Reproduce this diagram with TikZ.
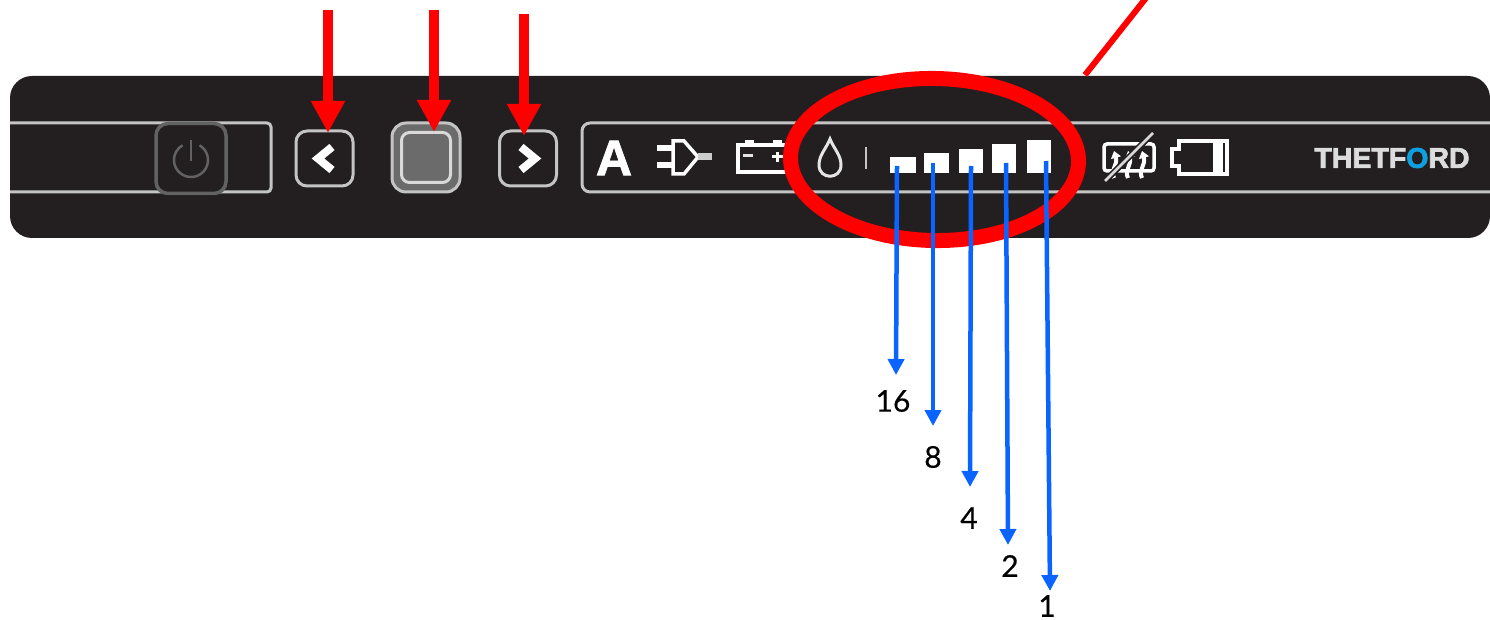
\documentclass[tikz,border=0pt]{standalone}
\usepackage{fontspec}
\setmainfont{Lato}[FakeBold=0.4]
\newfontfamily\logofont{Liberation Sans}[BoldFeatures={FakeBold=2.5}]
\newfontfamily\iconfont{Liberation Sans}[BoldFeatures={FakeBold=1.5}]
\usetikzlibrary{arrows.meta, shapes.geometric}
\definecolor{panelblack}{HTML}{231F20}
\definecolor{rimgray}{HTML}{C4C4C4}
\definecolor{padgray}{HTML}{6B6B6B}
\definecolor{powergray}{HTML}{626262}
\definecolor{markred}{HTML}{FF0000}
\definecolor{pointerblue}{HTML}{0A64FF}
\definecolor{logoblue}{HTML}{0FA0E0}
\definecolor{logogray}{HTML}{DCDCDC}
\tikzset{
    keypad/.style={draw=rimgray, line width=3pt, rounded corners=11pt, fill=panelblack, inner sep=0pt, minimum width=57pt, minimum height=55pt},
    levelbar/.style={fill=white, inner sep=0pt, anchor=south west},
    redpointer/.style={draw=markred, line width=10pt, -{Triangle[width=32pt,length=32pt]}},
    bluepointer/.style={draw=pointerblue, line width=4.5pt, -{Triangle[width=16pt,length=16pt]}},
    levellabel/.style={font=\fontsize{30}{30}\selectfont, text=black, inner sep=0pt},
    rimline/.style={draw=rimgray, line width=3pt},
    iconline/.style={draw=white, line width=3.5pt, line join=miter}
}
\begin{document}
\begin{tikzpicture}[x=1pt, y=-1pt]
    \useasboundingbox (0,0) rectangle (1490,620);

    % Panel body
    \node[fill=panelblack, rounded corners=22pt, inner sep=0pt, minimum width=1480pt, minimum height=162pt] (panel) at (750,157) {};

    % Rim lines of the two display strips
    \draw[rimline, rounded corners=4pt] (10,123) -- (271,123) -- (271,192) -- (10,192);
    \draw[rimline, rounded corners=8pt] (1490,123) -- (582,123) -- (582,192) -- (1490,192);

    % Power key
    \node[draw=powergray, line width=3.5pt, rounded corners=12pt, fill=panelblack, inner sep=0pt, minimum width=70pt, minimum height=70pt] (powerkey) at (191,158.5) {};
    \draw[draw=powergray, line width=2.5pt] (191,140) -- (191,161);
    \draw[draw=powergray, line width=2.5pt] (199.5,145.3) arc[start angle=-60, end angle=240, radius=17];

    % Keys
    \node[keypad] (backkey) at (324.5,158.5) {};
    \node[keypad, fill=padgray, minimum width=68pt, minimum height=69pt, rounded corners=14pt] (setkey) at (426,157.5) {};
    \node[keypad, fill=padgray, draw=white!85!black, minimum width=49pt, minimum height=50pt, rounded corners=8pt] (setpad) at (426,157.5) {};
    \node[keypad] (nextkey) at (528,158.5) {};
    \draw[draw=white, line width=8pt, line join=miter] (332,147) -- (318,158.5) -- (332,170);
    \draw[draw=white, line width=8pt, line join=miter] (521,147) -- (535,158.5) -- (521,170);

    % Mode letter and plug
    \node[inner sep=0pt, text=white, font=\iconfont\bfseries\fontsize{50}{50}\selectfont] (modeletter) at (614,158) {A};
    \draw[iconline, line width=5.5pt] (657,148) -- (673,148);
    \draw[iconline, line width=5.5pt] (657,165) -- (673,165);
    \draw[iconline] (673,141) -- (684,141) -- (698,157) -- (684,174) -- (673,174) -- cycle;
    \draw[draw=white!80!black, line width=7pt] (698,157) -- (712,157);

    % Battery, partly under the ring
    \draw[iconline] (738,145) rectangle (796,172);
    \fill[white] (745,140) rectangle (754,145);
    \fill[white] (773,140) rectangle (782,145);
    \draw[draw=white!90!black, line width=3pt] (743,156) -- (753,156);
    \draw[draw=white, line width=3pt] (772,157) -- (783,157);
    \draw[draw=white, line width=3pt] (777.5,152) -- (777.5,162);

    % Drop and tick
    \draw[draw=white!90!black, line width=3pt] (830,139) .. controls (826,149) and (819,155) .. (819,165) .. controls (819,180) and (841,180) .. (841,165) .. controls (841,155) and (834,149) .. (830,139) -- cycle;
    \draw[draw=rimgray, line width=2.5pt] (866,147) -- (866,169);

    % Level bars
    \node[levelbar, minimum width=26pt, minimum height=16pt] (bar16) at (890,173) {};
    \node[levelbar, minimum width=25pt, minimum height=20pt] (bar8) at (924,173) {};
    \node[levelbar, minimum width=24pt, minimum height=24pt] (bar4) at (959,173) {};
    \node[levelbar, minimum width=24pt, minimum height=29pt] (bar2) at (992,173) {};
    \node[levelbar, minimum width=24pt, minimum height=33pt] (bar1) at (1027,173) {};

    % Heater icon
    \draw[iconline, rounded corners=3pt] (1104,144) rectangle (1154,171);
    \draw[iconline, line width=4pt, -{Triangle[width=10pt,length=7pt]}] (1114,178) .. controls (1110,170) and (1118,165) .. (1114,151);
    \draw[iconline, line width=4pt, -{Triangle[width=10pt,length=7pt]}] (1128,178) .. controls (1124,170) and (1132,165) .. (1128,151);
    \draw[iconline, line width=4pt, -{Triangle[width=10pt,length=7pt]}] (1142,178) .. controls (1138,170) and (1146,165) .. (1142,151);
    \draw[draw=panelblack, line width=6pt] (1106,180) -- (1152,134);
    \draw[draw=white!85!black, line width=2.5pt] (1105,181) -- (1153,133);

    % Empty battery icon
    \draw[iconline] (1179,141) -- (1227,141) -- (1227,174) -- (1179,174) -- (1179,166) -- (1172,166) -- (1172,149) -- (1179,149) -- cycle;
    \fill[white] (1213,141) rectangle (1223,174);

    % Maker name
    \node[inner sep=0pt, text=logogray, font=\logofont\bfseries\fontsize{28.5}{28.5}\selectfont] (makername) at (1392,158) {THETF{\color{logoblue}O}RD};

    % Ring round the level bars
    \node[draw=markred, line width=15pt, ellipse, inner sep=0pt, minimum width=288pt, minimum height=162pt, rotate=-1] (levelring) at (934.5,159.5) {};
    \coordinate (ringtail) at (1146,-2);
    \coordinate (ringhead) at (1085,75);
    \draw[draw=markred, line width=6pt] (ringtail) -- (ringhead);

    % Red pointers on the keys
    \coordinate (backtop) at (328,10);
    \coordinate (settop) at (434,10);
    \coordinate (nexttop) at (524,14);
    \coordinate (backtip) at (328,133);
    \coordinate (settip) at (434,132);
    \coordinate (nexttip) at (524,136);
    \draw[redpointer] (backtop) -- (backtip);
    \draw[redpointer] (settop) -- (settip);
    \draw[redpointer] (nexttop) -- (nexttip);

    % Blue pointers down from the bars
    \coordinate (tail16) at (897,166);
    \coordinate (tail8) at (933,163);
    \coordinate (tail4) at (971,166);
    \coordinate (tail2) at (1006,163);
    \coordinate (tail1) at (1046,161);
    \coordinate (tip16) at (896,375);
    \coordinate (tip8) at (933,426);
    \coordinate (tip4) at (970,487);
    \coordinate (tip2) at (1008,545);
    \coordinate (tip1) at (1050,591);
    \draw[bluepointer] (tail16) -- (tip16);
    \draw[bluepointer] (tail8) -- (tip8);
    \draw[bluepointer] (tail4) -- (tip4);
    \draw[bluepointer] (tail2) -- (tip2);
    \draw[bluepointer] (tail1) -- (tip1);

    % Weights
    \node[levellabel] (label16) at (893,401) {16};
    \node[levellabel] (label8) at (933,457) {8};
    \node[levellabel] (label4) at (969,518) {4};
    \node[levellabel] (label2) at (1010,566) {2};
    \node[levellabel] (label1) at (1047,606) {1};
\end{tikzpicture}
\end{document}
